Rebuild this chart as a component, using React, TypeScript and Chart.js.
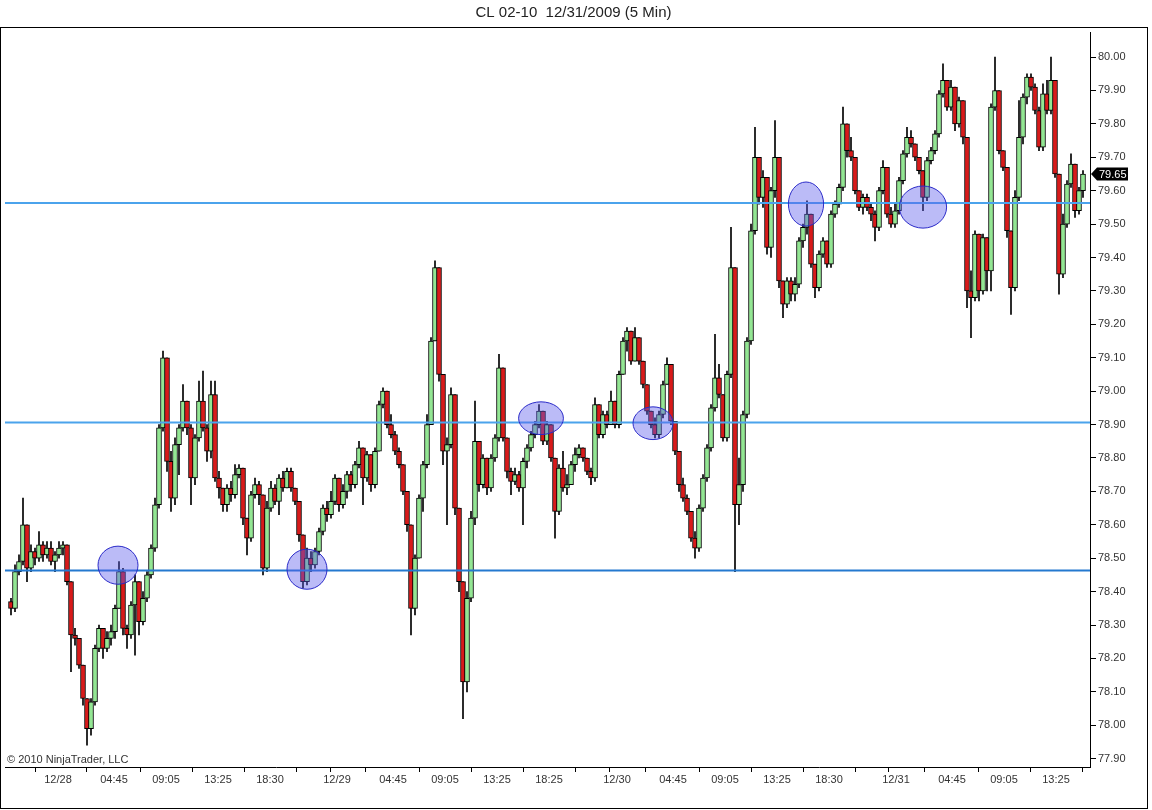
import React, { useEffect, useRef } from 'react';
import { Chart, registerables } from 'chart.js';

Chart.register(...registerables);

const TITLE = 'CL 02-10  12/31/2009 (5 Min)';
const COPYRIGHT = '© 2010 NinjaTrader, LLC';
const FONT = 'Arial, "Liberation Sans", sans-serif';

const FIRST_OPEN = 78.37;

const closes = [
  78.35, 78.46, 78.49, 78.60, 78.47, 78.52, 78.50, 78.54, 78.51, 78.53,
  78.49, 78.51, 78.53, 78.54, 78.43, 78.27, 78.26, 78.18, 78.08, 77.99,
  78.07, 78.23, 78.29, 78.23, 78.26, 78.28, 78.35, 78.46, 78.29, 78.27,
  78.36, 78.43, 78.31, 78.38, 78.45, 78.53, 78.66, 78.89, 79.10, 78.79,
  78.68, 78.84, 78.89, 78.97, 78.89, 78.74, 78.86, 78.97, 78.89, 78.82,
  78.99, 78.74, 78.71, 78.66, 78.71, 78.69, 78.75, 78.77, 78.62, 78.56,
  78.69, 78.72, 78.69, 78.47, 78.65, 78.71, 78.67, 78.74, 78.71, 78.76,
  78.71, 78.67, 78.57, 78.43, 78.50, 78.48, 78.52, 78.58, 78.65, 78.63,
  78.67, 78.74, 78.66, 78.70, 78.75, 78.72, 78.78, 78.83, 78.74, 78.81,
  78.72, 78.82, 78.96, 79.00, 78.90, 78.87, 78.82, 78.78, 78.70, 78.60,
  78.35, 78.50, 78.68, 78.78, 78.90, 79.15, 79.37, 79.05, 78.82, 78.84,
  78.99, 78.65, 78.43, 78.13, 78.38, 78.62, 78.85, 78.72, 78.80, 78.71,
  78.80, 78.86, 79.07, 78.86, 78.76, 78.73, 78.75, 78.71, 78.79, 78.83,
  78.87, 78.90, 78.94, 78.85, 78.90, 78.80, 78.64, 78.77, 78.71, 78.72,
  78.78, 78.81, 78.83, 78.80, 78.76, 78.74, 78.96, 78.87, 78.93, 78.90,
  78.97, 78.90, 79.05, 79.15, 79.18, 79.09, 79.16, 79.09, 79.02, 78.94,
  78.90, 78.87, 78.93, 79.02, 79.08, 78.91, 78.82, 78.72, 78.68, 78.64,
  78.56, 78.53, 78.65, 78.74, 78.83, 78.95, 79.04, 78.99, 78.86, 79.05,
  79.37, 78.66, 78.72, 78.93, 79.15, 79.48, 79.70, 79.58, 79.64, 79.43,
  79.60, 79.70, 79.33, 79.26, 79.33, 79.29, 79.32, 79.45, 79.49, 79.53,
  79.38, 79.31, 79.41, 79.45, 79.38, 79.53, 79.56, 79.61, 79.80, 79.72,
  79.70, 79.60, 79.55, 79.58, 79.55, 79.53, 79.49, 79.60, 79.67, 79.53,
  79.50, 79.54, 79.63, 79.71, 79.76, 79.74, 79.70, 79.66, 79.58, 79.69,
  79.72, 79.77, 79.89, 79.93, 79.85, 79.91, 79.80, 79.87, 79.76, 79.30,
  79.28, 79.47, 79.30, 79.46, 79.36, 79.85, 79.90, 79.72, 79.67, 79.48,
  79.31, 79.58, 79.76, 79.88, 79.94, 79.91, 79.84, 79.73, 79.89, 79.84,
  79.93, 79.65, 79.35, 79.50, 79.62, 79.68, 79.54, 79.60, 79.65,
];

const highs = [
  78.38, 78.48, 78.51, 78.68, 78.60, 78.54, 78.53, 78.58, 78.55, 78.55,
  78.55, 78.52, 78.55, 78.55, 78.54, 78.43, 78.29, 78.26, 78.18, 78.08,
  78.08, 78.24, 78.30, 78.29, 78.28, 78.30, 78.36, 78.49, 78.47, 78.30,
  78.37, 78.45, 78.43, 78.40, 78.46, 78.54, 78.68, 78.90, 79.12, 79.08,
  78.82, 78.86, 78.90, 79.02, 78.97, 78.90, 78.87, 79.03, 79.06, 78.90,
  79.03, 79.03, 78.76, 78.71, 78.72, 78.73, 78.78, 78.78, 78.77, 78.61,
  78.70, 78.74, 78.73, 78.69, 78.67, 78.73, 78.72, 78.75, 78.76, 78.77,
  78.77, 78.71, 78.67, 78.57, 78.53, 78.52, 78.53, 78.59, 78.66, 78.67,
  78.70, 78.75, 78.74, 78.72, 78.76, 78.76, 78.79, 78.85, 78.83, 78.82,
  78.81, 78.83, 78.97, 79.01, 79.00, 78.93, 78.88, 78.83, 78.78, 78.70,
  78.60, 78.51, 78.69, 78.79, 78.93, 79.16, 79.39, 79.35, 79.05, 78.86,
  79.01, 78.99, 78.65, 78.42, 78.40, 78.64, 78.97, 78.85, 78.81, 78.80,
  78.81, 78.87, 79.11, 79.07, 78.86, 78.77, 78.77, 78.76, 78.80, 78.84,
  78.88, 78.91, 78.96, 78.94, 78.91, 78.90, 78.80, 78.78, 78.82, 78.75,
  78.79, 78.83, 78.84, 78.83, 78.80, 78.77, 78.98, 78.96, 78.94, 78.94,
  79.00, 78.97, 79.06, 79.16, 79.19, 79.18, 79.19, 79.16, 79.09, 79.02,
  78.94, 78.92, 78.94, 79.03, 79.10, 79.08, 78.91, 78.82, 78.74, 78.69,
  78.64, 78.58, 78.66, 78.75, 78.84, 78.96, 79.17, 79.08, 78.99, 79.06,
  79.49, 79.37, 78.80, 78.94, 79.16, 79.50, 79.79, 79.70, 79.66, 79.64,
  79.61, 79.81, 79.70, 79.33, 79.34, 79.34, 79.34, 79.46, 79.50, 79.57,
  79.53, 79.38, 79.42, 79.46, 79.45, 79.54, 79.57, 79.62, 79.85, 79.80,
  79.76, 79.70, 79.60, 79.59, 79.59, 79.56, 79.54, 79.61, 79.69, 79.67,
  79.55, 79.56, 79.64, 79.72, 79.79, 79.78, 79.74, 79.70, 79.66, 79.70,
  79.73, 79.78, 79.90, 79.98, 79.93, 79.93, 79.91, 79.88, 79.86, 79.76,
  79.36, 79.48, 79.47, 79.47, 79.46, 79.86, 80.00, 79.90, 79.72, 79.67,
  79.48, 79.60, 79.87, 79.89, 79.95, 79.95, 79.92, 79.85, 79.92, 79.93,
  80.00, 79.93, 79.65, 79.53, 79.63, 79.71, 79.68, 79.61, 79.66,
];

const lows = [
  78.33, 78.34, 78.45, 78.48, 78.43, 78.46, 78.48, 78.49, 78.49, 78.50,
  78.48, 78.46, 78.50, 78.51, 78.42, 78.16, 78.24, 78.17, 78.06, 77.94,
  77.97, 78.06, 78.22, 78.20, 78.22, 78.24, 78.26, 78.35, 78.27, 78.23,
  78.26, 78.21, 78.27, 78.30, 78.37, 78.44, 78.52, 78.65, 78.88, 78.76,
  78.64, 78.66, 78.75, 78.88, 78.87, 78.66, 78.72, 78.85, 78.88, 78.79,
  78.80, 78.73, 78.68, 78.64, 78.64, 78.67, 78.68, 78.74, 78.60, 78.51,
  78.55, 78.68, 78.66, 78.45, 78.46, 78.64, 78.66, 78.63, 78.70, 78.71,
  78.70, 78.66, 78.55, 78.41, 78.42, 78.46, 78.47, 78.51, 78.57, 78.61,
  78.62, 78.66, 78.64, 78.65, 78.68, 78.70, 78.71, 78.77, 78.66, 78.73,
  78.70, 78.71, 78.82, 78.95, 78.89, 78.86, 78.81, 78.77, 78.69, 78.58,
  78.27, 78.33, 78.50, 78.64, 78.77, 78.90, 79.15, 79.03, 78.78, 78.60,
  78.83, 78.63, 78.40, 78.02, 78.10, 78.37, 78.60, 78.70, 78.71, 78.69,
  78.70, 78.79, 78.85, 78.85, 78.74, 78.69, 78.72, 78.70, 78.60, 78.77,
  78.82, 78.86, 78.89, 78.84, 78.84, 78.79, 78.56, 78.63, 78.70, 78.69,
  78.72, 78.76, 78.80, 78.79, 78.75, 78.72, 78.73, 78.86, 78.86, 78.89,
  78.90, 78.89, 78.89, 79.05, 79.12, 79.08, 79.09, 79.08, 79.01, 78.93,
  78.89, 78.86, 78.86, 78.92, 79.02, 78.90, 78.81, 78.70, 78.67, 78.63,
  78.55, 78.50, 78.52, 78.64, 78.73, 78.82, 78.94, 78.98, 78.85, 78.85,
  79.04, 78.46, 78.60, 78.70, 78.92, 79.14, 79.47, 79.56, 79.55, 79.41,
  79.40, 79.58, 79.31, 79.22, 79.25, 79.27, 79.27, 79.31, 79.43, 79.47,
  79.37, 79.28, 79.30, 79.40, 79.37, 79.37, 79.52, 79.55, 79.60, 79.70,
  79.69, 79.59, 79.54, 79.53, 79.54, 79.51, 79.45, 79.48, 79.59, 79.52,
  79.49, 79.49, 79.53, 79.62, 79.70, 79.73, 79.69, 79.65, 79.54, 79.57,
  79.68, 79.71, 79.76, 79.88, 79.84, 79.84, 79.78, 79.79, 79.74, 79.25,
  79.16, 79.27, 79.27, 79.29, 79.30, 79.30, 79.84, 79.71, 79.66, 79.46,
  79.23, 79.30, 79.57, 79.74, 79.86, 79.90, 79.83, 79.72, 79.72, 79.83,
  79.83, 79.64, 79.29, 79.34, 79.49, 79.61, 79.52, 79.53, 79.58,
];

const xTickIdx = [
  0.5, 11.75, 25.75, 38.75, 51.75, 64.75, 78, 81.5, 95.5, 108.5, 121.5, 134.5,
  147.5, 151.5, 165.5, 178.5, 191.5, 204.5, 217.5, 221.25, 235.25, 248.25, 261.25,
];
const xTickLabels = [
  '', '12/28', '04:45', '09:05', '13:25', '18:30', '', '12/29', '04:45', '09:05', '13:25', '18:25',
  '', '12/30', '04:45', '09:05', '13:25', '18:30', '', '12/31', '04:45', '09:05', '13:25',
];

const yTicks = [
  77.9, 78.0, 78.1, 78.2, 78.3, 78.4, 78.5, 78.6, 78.7, 78.8, 78.9,
  79.0, 79.1, 79.2, 79.3, 79.4, 79.5, 79.6, 79.7, 79.8, 79.9, 80.0,
];

const levels = [79.563, 78.906, 78.463];
const levelColors = ['#4ba3ec', '#4ba3ec', '#2479cf'];

const circleIdx = [26.75, 74, 132.5, 160.5, 198.75, 228];
const circlePrice = [78.479, 78.467, 78.919, 78.904, 79.56, 79.551];
const circleRx = [5, 5, 5.6, 5, 4.4, 5.9];
const circleRy = [0.057, 0.06, 0.049, 0.049, 0.066, 0.063];

const X_MIN = -1.5;
const X_MAX = 269.75;
const Y_MIN = 77.875;
const Y_MAX = 80.075;

const UP = '#93e693';
const DOWN = '#d81a1a';

export default function App() {
  const ref = useRef<HTMLCanvasElement | null>(null);

  useEffect(() => {
    const canvas = ref.current;
    if (!canvas) return;

    const opens = closes.map((c, i) => (i === 0 ? FIRST_OPEN : closes[i - 1]));
    const wickData = closes.map((c, i) => ({
      x: i,
      y: [Math.min(lows[i], opens[i], c), Math.max(highs[i], opens[i], c)],
    }));
    const bodyData = closes.map((c, i) => {
      const o = opens[i];
      let a = Math.min(o, c);
      let b = Math.max(o, c);
      if (b - a < 0.008) {
        const m = (a + b) / 2;
        a = m - 0.004;
        b = m + 0.004;
      }
      return { x: i, y: [a, b] };
    });
    const bodyColors = closes.map((c, i) => (c >= opens[i] ? UP : DOWN));

    const lineSets = levels.map((lv, k) => ({
      type: 'line' as const,
      data: [
        { x: X_MIN, y: lv },
        { x: X_MAX, y: lv },
      ],
      borderColor: levelColors[k],
      borderWidth: 2,
      pointRadius: 0,
      order: 0,
      clip: false as any,
    }));

    const overlay = {
      id: 'overlay',
      afterDatasetsDraw(chart: any) {
        const { ctx, scales } = chart;
        const xs = scales.x;
        const ys = scales.y;
        ctx.save();
        for (let k = 0; k < circleIdx.length; k++) {
          const cx = xs.getPixelForValue(circleIdx[k]);
          const cy = ys.getPixelForValue(circlePrice[k]);
          const rx = Math.abs(xs.getPixelForValue(circleIdx[k] + circleRx[k]) - cx);
          const ry = Math.abs(ys.getPixelForValue(circlePrice[k] + circleRy[k]) - cy);
          ctx.beginPath();
          ctx.ellipse(cx, cy, rx, ry, 0, 0, Math.PI * 2);
          ctx.fillStyle = 'rgba(92, 92, 235, 0.42)';
          ctx.fill();
          ctx.lineWidth = 1;
          ctx.strokeStyle = '#2a2ac8';
          ctx.stroke();
        }
        ctx.restore();
      },
      afterDraw(chart: any) {
        const { ctx, scales, chartArea } = chart;
        ctx.save();
        // frame
        ctx.strokeStyle = '#000';
        ctx.lineWidth = 1;
        ctx.strokeRect(0.5, 27.5, 1147, 781);
        // title
        ctx.fillStyle = '#222';
        ctx.font = `15px ${FONT}`;
        ctx.textAlign = 'center';
        ctx.textBaseline = 'middle';
        ctx.fillText(TITLE, 573.5, 13);
        // copyright
        ctx.font = `11px ${FONT}`;
        ctx.textAlign = 'left';
        ctx.fillStyle = '#333';
        ctx.fillText(COPYRIGHT, 7, 760);
        // last price marker
        const last = closes[closes.length - 1];
        const y = Math.round(scales.y.getPixelForValue(last));
        const x0 = chartArea.right + 1;
        ctx.beginPath();
        ctx.moveTo(x0, y);
        ctx.lineTo(x0 + 6, y - 6.5);
        ctx.lineTo(x0 + 37, y - 6.5);
        ctx.lineTo(x0 + 37, y + 6.5);
        ctx.lineTo(x0 + 6, y + 6.5);
        ctx.closePath();
        ctx.fillStyle = '#000';
        ctx.fill();
        ctx.fillStyle = '#fff';
        ctx.font = `11px ${FONT}`;
        ctx.textAlign = 'left';
        ctx.textBaseline = 'middle';
        ctx.fillText(last.toFixed(2), x0 + 8, y + 0.5);
        ctx.restore();
      },
    };

    const chart = new Chart(canvas, {
      type: 'bar',
      data: {
        datasets: [
          {
            type: 'bar',
            data: wickData as any,
            backgroundColor: '#000',
            borderWidth: 0,
            barThickness: 1,
            grouped: false,
            order: 2,
          } as any,
          {
            type: 'bar',
            data: bodyData as any,
            backgroundColor: bodyColors,
            borderColor: '#000',
            borderWidth: 1,
            borderSkipped: false,
            barThickness: 5,
            grouped: false,
            order: 1,
          } as any,
          ...lineSets,
        ],
      },
      options: {
        responsive: false,
        animation: false,
        events: [],
        layout: { padding: { left: 5, top: 32, right: 0, bottom: 0 } },
        plugins: {
          legend: { display: false },
          tooltip: { enabled: false },
          title: { display: false },
        },
        scales: {
          x: {
            type: 'linear',
            min: X_MIN,
            max: X_MAX,
            offset: false,
            afterBuildTicks: (scale: any) => {
              scale.ticks = xTickIdx.map((v) => ({ value: v }));
            },
            afterFit: (scale: any) => {
              scale.height = 43;
            },
            grid: {
              drawOnChartArea: false,
              drawTicks: true,
              tickLength: 5,
              color: '#000',
            },
            border: { display: true, color: '#000', width: 1 },
            ticks: {
              autoSkip: false,
              maxRotation: 0,
              minRotation: 0,
              padding: 1,
              color: '#333',
              font: { family: FONT, size: 11 },
              callback: (v: any) => {
                const k = xTickIdx.indexOf(Number(v));
                return k >= 0 ? xTickLabels[k] : '';
              },
            },
          },
          y: {
            type: 'linear',
            position: 'right',
            min: Y_MIN,
            max: Y_MAX,
            afterBuildTicks: (scale: any) => {
              scale.ticks = yTicks.map((v) => ({ value: v }));
            },
            afterFit: (scale: any) => {
              scale.width = 62;
            },
            grid: {
              drawOnChartArea: false,
              drawTicks: true,
              tickLength: 6,
              color: '#000',
            },
            border: { display: true, color: '#000', width: 1 },
            ticks: {
              padding: 2,
              color: '#333',
              font: { family: FONT, size: 11 },
              callback: (v: any) => Number(v).toFixed(2),
            },
          },
        },
      } as any,
      plugins: [overlay],
    });

    return () => {
      chart.destroy();
    };
  }, []);

  return (
    <div style={{ position: 'absolute', left: 0, top: 0, width: 1152, height: 810, background: '#fff' }}>
      <canvas ref={ref} width={1152} height={810} style={{ display: 'block' }} />
    </div>
  );
}
